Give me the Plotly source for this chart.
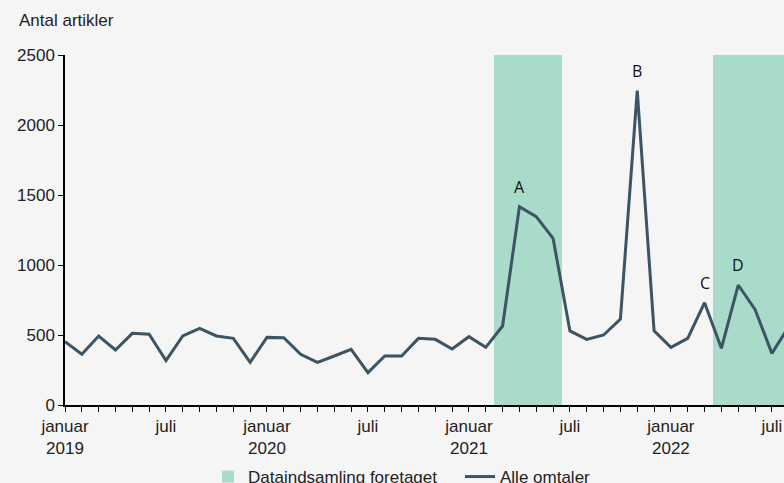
import plotly.graph_objects as go

month_index = list(range(44))
alle_omtaler = [452, 362, 493, 393, 512, 505, 317, 493, 548, 493, 476, 305,
                483, 481, 362, 305, 350, 398, 231, 350, 350, 476, 469, 400,
                488, 412, 564, 1416, 1345, 1190, 529, 469, 500, 614, 2245, 529,
                412, 476, 731, 405, 857, 683, 369, 560]

datainds_months = [26, 27, 28, 29, 39, 40, 41, 42, 43]
datainds_values = [2500] * len(datainds_months)

tick_vals = list(range(44))
tick_text = []
for i in tick_vals:
    m = i % 12
    yr = 2019 + i // 12
    if m == 0:
        tick_text.append(f"januar<br>{yr}")
    elif m == 6:
        tick_text.append("juli")
    else:
        tick_text.append("")

labels = ["A", "B", "C", "D"]
label_idx = [27, 34, 38, 40]

fig = go.Figure()
fig.add_trace(go.Bar(
    x=datainds_months, y=datainds_values, width=1,
    marker=dict(color="#A9DBCA", line=dict(width=0)),
    name="Dataindsamling foretaget",
))
fig.add_trace(go.Scatter(
    x=month_index, y=alle_omtaler, mode="lines",
    line=dict(color="#3C5464", width=3),
    name="Alle omtaler",
))

for lab, i in zip(labels, label_idx):
    fig.add_annotation(x=i, y=alle_omtaler[i], text=lab, showarrow=False,
                       yanchor="bottom", yshift=7,
                       font=dict(family="Open Sans", size=16, color="#111111"))

fig.add_annotation(xref="paper", yref="paper", x=-65/719, y=1 + 34/350,
                   xanchor="left", yanchor="middle", text="Antal artikler",
                   showarrow=False, xshift=17,
                   font=dict(family="Liberation Sans", size=17, color="#222222"))

fig.update_layout(
    width=784, height=483,
    margin=dict(l=65, r=0, t=55, b=78),
    paper_bgcolor="#F5F5F5", plot_bgcolor="#F5F5F5",
    font=dict(family="Liberation Sans", size=17, color="#222222"),
    showlegend=True,
    legend=dict(orientation="h", xref="container", yref="container",
                x=208/784, xanchor="left", y=24/483, yanchor="top",
                entrywidth=207, entrywidthmode="pixels",
                font=dict(size=17), bgcolor="rgba(0,0,0,0)"),
    bargap=0,
)
fig.update_xaxes(
    range=[0, 42.72], tickmode="array", tickvals=tick_vals, ticktext=tick_text,
    ticks="outside", ticklen=5, tickcolor="black", showline=True, linecolor="black",
    linewidth=1.5, showgrid=False, zeroline=False, tickangle=0, automargin=False,
    tickfont=dict(size=17),
)
fig.update_yaxes(
    range=[0, 2500], tickvals=[0, 500, 1000, 1500, 2000, 2500],
    ticks="outside", ticklen=5, tickcolor="black", showline=True, linecolor="black",
    linewidth=1.5, showgrid=False, zeroline=False, tickfont=dict(size=17),
    automargin=False,
)

fig.write_html("out.html", config={"displayModeBar": False},
               post_script="document.body.style.margin='0';document.body.style.overflow='hidden';")
